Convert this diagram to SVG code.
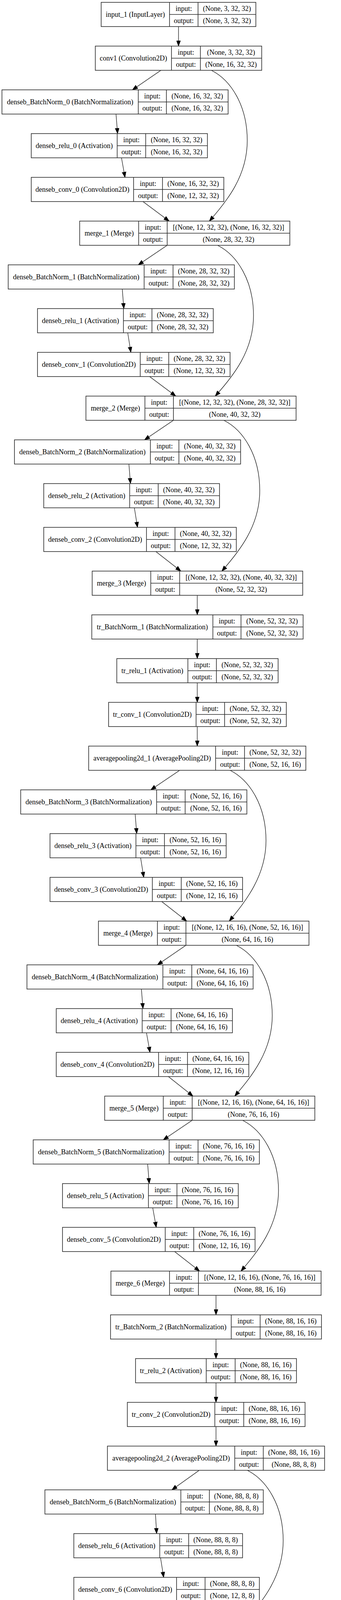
<svg xmlns="http://www.w3.org/2000/svg" width="873" height="5675" viewBox="0 0 873 5675">
<style>
.n rect{fill:#fff;stroke:#2a2a2a;stroke-width:1.6}
.n path{fill:none;stroke:#2a2a2a;stroke-width:1.6}
.n text{font-family:"Liberation Serif","Times New Roman",serif;font-size:18px;fill:#000;text-anchor:middle}
#edges path{fill:none;stroke:#000;stroke-width:1.2;marker-end:url(#arr)}
</style>
<defs>
<marker id="arr" markerUnits="userSpaceOnUse" markerWidth="15" markerHeight="11" refX="14" refY="5.5" orient="auto"><path d="M0.5,0.5L14,5.5L0.5,10.5z" fill="#000" stroke="#000" stroke-width="1"/></marker>
</defs>
<rect x="0" y="0" width="873" height="5675" fill="#fff"/>
<g id="edges">
<path d="M457,68V118"/>
<path d="M412,180L339,230"/>
<path d="M541,180C591,205 633,270 633,360C633,450 581,515 536,566"/>
<path d="M297,292L301,342"/>
<path d="M311,404L320,454"/>
<path d="M366,516L433,566"/>
<path d="M428,628L354,678"/>
<path d="M557,628C607,653 649,718 649,808C649,898 597,963 551,1014"/>
<path d="M313,740L317,790"/>
<path d="M327,852L335,902"/>
<path d="M383,964L450,1014"/>
<path d="M444,1076L370,1126"/>
<path d="M573,1076C623,1101 665,1166 665,1256C665,1346 613,1411 568,1462"/>
<path d="M330,1188L334,1238"/>
<path d="M344,1300L352,1350"/>
<path d="M399,1412L463,1462"/>
<path d="M505,1524V1574"/>
<path d="M505,1636V1686"/>
<path d="M505,1748V1798"/>
<path d="M505,1860V1910"/>
<path d="M460,1972L386,2022"/>
<path d="M589,1972C639,1997 681,2062 681,2152C681,2242 629,2307 587,2358"/>
<path d="M346,2084L350,2134"/>
<path d="M360,2196L368,2246"/>
<path d="M414,2308L478,2358"/>
<path d="M476,2420L403,2470"/>
<path d="M605,2420C655,2445 697,2510 697,2600C697,2690 645,2755 601,2806"/>
<path d="M362,2532L366,2582"/>
<path d="M375,2644L384,2694"/>
<path d="M431,2756L494,2806"/>
<path d="M492,2868L418,2918"/>
<path d="M621,2868C671,2893 713,2958 713,3048C713,3138 661,3203 617,3254"/>
<path d="M378,2980L382,3030"/>
<path d="M391,3092L400,3142"/>
<path d="M447,3204L511,3254"/>
<path d="M553,3316V3366"/>
<path d="M553,3428V3478"/>
<path d="M553,3540V3590"/>
<path d="M553,3652V3702"/>
<path d="M510,3764L440,3814"/>
<path d="M633,3764C683,3789 725,3854 725,3944C725,4034 673,4099 628,4150"/>
<path d="M398,3876L401,3926"/>
<path d="M411,3988L419,4038"/>
<path d="M465,4100L531,4150"/>
<path d="M525,4212L452,4262"/>
<path d="M649,4212C699,4237 741,4302 741,4392C741,4482 689,4547 646,4598"/>
<path d="M411,4324L415,4374"/>
<path d="M426,4436L434,4486"/>
<path d="M480,4548L540,4598"/>
<path d="M541,4660L468,4710"/>
<path d="M665,4660C715,4685 757,4750 757,4840C757,4930 705,4995 663,5046"/>
<path d="M428,4772L432,4822"/>
<path d="M442,4884L450,4934"/>
<path d="M496,4996L562,5046"/>
<path d="M601,5108V5158"/>
<path d="M601,5220V5270"/>
<path d="M601,5332V5382"/>
<path d="M601,5444V5494"/>
<path d="M601,5556V5606"/>
</g>
<g id="input_1" class="n"><rect x="259" y="6" width="396" height="62"/><path d="M434,6V68M507,6V68M434,37H655"/><text x="346.5" y="43">input_1 (InputLayer)</text><text x="470.5" y="27.5">input:</text><text x="470.5" y="58.5">output:</text><text x="581" y="27.5">(None, 3, 32, 32)</text><text x="581" y="58.5">(None, 3, 32, 32)</text></g>
<g id="conv1" class="n"><rect x="244" y="118" width="426" height="62"/><path d="M439,118V180M513,118V180M439,149H670"/><text x="341.5" y="155">conv1 (Convolution2D)</text><text x="476" y="139.5">input:</text><text x="476" y="170.5">output:</text><text x="591.5" y="139.5">(None, 3, 32, 32)</text><text x="591.5" y="170.5">(None, 16, 32, 32)</text></g>
<g id="denseb_BatchNorm_0" class="n"><rect x="5" y="230" width="579" height="62"/><path d="M354,230V292M426,230V292M354,261H584"/><text x="179.5" y="267">denseb_BatchNorm_0 (BatchNormalization)</text><text x="390" y="251.5">input:</text><text x="390" y="282.5">output:</text><text x="505" y="251.5">(None, 16, 32, 32)</text><text x="505" y="282.5">(None, 16, 32, 32)</text></g>
<g id="denseb_relu_0" class="n"><rect x="80" y="342" width="451" height="62"/><path d="M300,342V404M373,342V404M300,373H531"/><text x="190" y="379">denseb_relu_0 (Activation)</text><text x="336.5" y="363.5">input:</text><text x="336.5" y="394.5">output:</text><text x="452" y="363.5">(None, 16, 32, 32)</text><text x="452" y="394.5">(None, 16, 32, 32)</text></g>
<g id="denseb_conv_0" class="n"><rect x="80" y="454" width="493" height="62"/><path d="M342,454V516M416,454V516M342,485H573"/><text x="211" y="491">denseb_conv_0 (Convolution2D)</text><text x="379" y="475.5">input:</text><text x="379" y="506.5">output:</text><text x="494.5" y="475.5">(None, 16, 32, 32)</text><text x="494.5" y="506.5">(None, 12, 32, 32)</text></g>
<g id="merge_1" class="n"><rect x="204" y="566" width="538" height="62"/><path d="M355,566V628M428,566V628M355,597H742"/><text x="279.5" y="603">merge_1 (Merge)</text><text x="391.5" y="587.5">input:</text><text x="391.5" y="618.5">output:</text><text x="585" y="587.5">[(None, 12, 32, 32), (None, 16, 32, 32)]</text><text x="585" y="618.5">(None, 28, 32, 32)</text></g>
<g id="denseb_BatchNorm_1" class="n"><rect x="21" y="678" width="579" height="62"/><path d="M369,678V740M443,678V740M369,709H600"/><text x="195" y="715">denseb_BatchNorm_1 (BatchNormalization)</text><text x="406" y="699.5">input:</text><text x="406" y="730.5">output:</text><text x="521.5" y="699.5">(None, 28, 32, 32)</text><text x="521.5" y="730.5">(None, 28, 32, 32)</text></g>
<g id="denseb_relu_1" class="n"><rect x="96" y="790" width="450" height="62"/><path d="M316,790V852M389,790V852M316,821H546"/><text x="206" y="827">denseb_relu_1 (Activation)</text><text x="352.5" y="811.5">input:</text><text x="352.5" y="842.5">output:</text><text x="467.5" y="811.5">(None, 28, 32, 32)</text><text x="467.5" y="842.5">(None, 28, 32, 32)</text></g>
<g id="denseb_conv_1" class="n"><rect x="96" y="902" width="493" height="62"/><path d="M359,902V964M432,902V964M359,933H589"/><text x="227.5" y="939">denseb_conv_1 (Convolution2D)</text><text x="395.5" y="923.5">input:</text><text x="395.5" y="954.5">output:</text><text x="510.5" y="923.5">(None, 28, 32, 32)</text><text x="510.5" y="954.5">(None, 12, 32, 32)</text></g>
<g id="merge_2" class="n"><rect x="220" y="1014" width="538" height="62"/><path d="M371,1014V1076M444,1014V1076M371,1045H758"/><text x="295.5" y="1051">merge_2 (Merge)</text><text x="407.5" y="1035.5">input:</text><text x="407.5" y="1066.5">output:</text><text x="601" y="1035.5">[(None, 12, 32, 32), (None, 28, 32, 32)]</text><text x="601" y="1066.5">(None, 40, 32, 32)</text></g>
<g id="denseb_BatchNorm_2" class="n"><rect x="37" y="1126" width="579" height="62"/><path d="M385,1126V1188M458,1126V1188M385,1157H616"/><text x="211" y="1163">denseb_BatchNorm_2 (BatchNormalization)</text><text x="421.5" y="1147.5">input:</text><text x="421.5" y="1178.5">output:</text><text x="537" y="1147.5">(None, 40, 32, 32)</text><text x="537" y="1178.5">(None, 40, 32, 32)</text></g>
<g id="denseb_relu_2" class="n"><rect x="112" y="1238" width="450" height="62"/><path d="M332,1238V1300M405,1238V1300M332,1269H562"/><text x="222" y="1275">denseb_relu_2 (Activation)</text><text x="368.5" y="1259.5">input:</text><text x="368.5" y="1290.5">output:</text><text x="483.5" y="1259.5">(None, 40, 32, 32)</text><text x="483.5" y="1290.5">(None, 40, 32, 32)</text></g>
<g id="denseb_conv_2" class="n"><rect x="112" y="1350" width="493" height="62"/><path d="M375,1350V1412M448,1350V1412M375,1381H605"/><text x="243.5" y="1387">denseb_conv_2 (Convolution2D)</text><text x="411.5" y="1371.5">input:</text><text x="411.5" y="1402.5">output:</text><text x="526.5" y="1371.5">(None, 40, 32, 32)</text><text x="526.5" y="1402.5">(None, 12, 32, 32)</text></g>
<g id="merge_3" class="n"><rect x="236" y="1462" width="539" height="62"/><path d="M386,1462V1524M460,1462V1524M386,1493H775"/><text x="311" y="1499">merge_3 (Merge)</text><text x="423" y="1483.5">input:</text><text x="423" y="1514.5">output:</text><text x="617.5" y="1483.5">[(None, 12, 32, 32), (None, 40, 32, 32)]</text><text x="617.5" y="1514.5">(None, 52, 32, 32)</text></g>
<g id="tr_BatchNorm_1" class="n"><rect x="235" y="1574" width="541" height="62"/><path d="M545,1574V1636M617,1574V1636M545,1605H776"/><text x="390" y="1611">tr_BatchNorm_1 (BatchNormalization)</text><text x="581" y="1595.5">input:</text><text x="581" y="1626.5">output:</text><text x="696.5" y="1595.5">(None, 52, 32, 32)</text><text x="696.5" y="1626.5">(None, 52, 32, 32)</text></g>
<g id="tr_relu_1" class="n"><rect x="299" y="1686" width="413" height="62"/><path d="M481,1686V1748M554,1686V1748M481,1717H712"/><text x="390" y="1723">tr_relu_1 (Activation)</text><text x="517.5" y="1707.5">input:</text><text x="517.5" y="1738.5">output:</text><text x="633" y="1707.5">(None, 52, 32, 32)</text><text x="633" y="1738.5">(None, 52, 32, 32)</text></g>
<g id="tr_conv_1" class="n"><rect x="278" y="1798" width="455" height="62"/><path d="M502,1798V1860M575,1798V1860M502,1829H733"/><text x="390" y="1835">tr_conv_1 (Convolution2D)</text><text x="538.5" y="1819.5">input:</text><text x="538.5" y="1850.5">output:</text><text x="654" y="1819.5">(None, 52, 32, 32)</text><text x="654" y="1850.5">(None, 52, 32, 32)</text></g>
<g id="averagepooling2d_1" class="n"><rect x="227" y="1910" width="556" height="62"/><path d="M552,1910V1972M626,1910V1972M552,1941H783"/><text x="389.5" y="1947">averagepooling2d_1 (AveragePooling2D)</text><text x="589" y="1931.5">input:</text><text x="589" y="1962.5">output:</text><text x="704.5" y="1931.5">(None, 52, 32, 32)</text><text x="704.5" y="1962.5">(None, 52, 16, 16)</text></g>
<g id="denseb_BatchNorm_3" class="n"><rect x="53" y="2022" width="579" height="62"/><path d="M401,2022V2084M474,2022V2084M401,2053H632"/><text x="227" y="2059">denseb_BatchNorm_3 (BatchNormalization)</text><text x="437.5" y="2043.5">input:</text><text x="437.5" y="2074.5">output:</text><text x="553" y="2043.5">(None, 52, 16, 16)</text><text x="553" y="2074.5">(None, 52, 16, 16)</text></g>
<g id="denseb_relu_3" class="n"><rect x="128" y="2134" width="451" height="62"/><path d="M348,2134V2196M421,2134V2196M348,2165H579"/><text x="238" y="2171">denseb_relu_3 (Activation)</text><text x="384.5" y="2155.5">input:</text><text x="384.5" y="2186.5">output:</text><text x="500" y="2155.5">(None, 52, 16, 16)</text><text x="500" y="2186.5">(None, 52, 16, 16)</text></g>
<g id="denseb_conv_3" class="n"><rect x="128" y="2246" width="493" height="62"/><path d="M390,2246V2308M464,2246V2308M390,2277H621"/><text x="259" y="2283">denseb_conv_3 (Convolution2D)</text><text x="427" y="2267.5">input:</text><text x="427" y="2298.5">output:</text><text x="542.5" y="2267.5">(None, 52, 16, 16)</text><text x="542.5" y="2298.5">(None, 12, 16, 16)</text></g>
<g id="merge_4" class="n"><rect x="252" y="2358" width="539" height="62"/><path d="M403,2358V2420M476,2358V2420M403,2389H791"/><text x="327.5" y="2395">merge_4 (Merge)</text><text x="439.5" y="2379.5">input:</text><text x="439.5" y="2410.5">output:</text><text x="633.5" y="2379.5">[(None, 12, 16, 16), (None, 52, 16, 16)]</text><text x="633.5" y="2410.5">(None, 64, 16, 16)</text></g>
<g id="denseb_BatchNorm_4" class="n"><rect x="69" y="2470" width="579" height="62"/><path d="M417,2470V2532M491,2470V2532M417,2501H648"/><text x="243" y="2507">denseb_BatchNorm_4 (BatchNormalization)</text><text x="454" y="2491.5">input:</text><text x="454" y="2522.5">output:</text><text x="569.5" y="2491.5">(None, 64, 16, 16)</text><text x="569.5" y="2522.5">(None, 64, 16, 16)</text></g>
<g id="denseb_relu_4" class="n"><rect x="144" y="2582" width="451" height="62"/><path d="M364,2582V2644M438,2582V2644M364,2613H595"/><text x="254" y="2619">denseb_relu_4 (Activation)</text><text x="401" y="2603.5">input:</text><text x="401" y="2634.5">output:</text><text x="516.5" y="2603.5">(None, 64, 16, 16)</text><text x="516.5" y="2634.5">(None, 64, 16, 16)</text></g>
<g id="denseb_conv_4" class="n"><rect x="144" y="2694" width="493" height="62"/><path d="M406,2694V2756M480,2694V2756M406,2725H637"/><text x="275" y="2731">denseb_conv_4 (Convolution2D)</text><text x="443" y="2715.5">input:</text><text x="443" y="2746.5">output:</text><text x="558.5" y="2715.5">(None, 64, 16, 16)</text><text x="558.5" y="2746.5">(None, 12, 16, 16)</text></g>
<g id="merge_5" class="n"><rect x="268" y="2806" width="538" height="62"/><path d="M418,2806V2868M492,2806V2868M418,2837H806"/><text x="343" y="2843">merge_5 (Merge)</text><text x="455" y="2827.5">input:</text><text x="455" y="2858.5">output:</text><text x="649" y="2827.5">[(None, 12, 16, 16), (None, 64, 16, 16)]</text><text x="649" y="2858.5">(None, 76, 16, 16)</text></g>
<g id="denseb_BatchNorm_5" class="n"><rect x="85" y="2918" width="579" height="62"/><path d="M433,2918V2980M507,2918V2980M433,2949H664"/><text x="259" y="2955">denseb_BatchNorm_5 (BatchNormalization)</text><text x="470" y="2939.5">input:</text><text x="470" y="2970.5">output:</text><text x="585.5" y="2939.5">(None, 76, 16, 16)</text><text x="585.5" y="2970.5">(None, 76, 16, 16)</text></g>
<g id="denseb_relu_5" class="n"><rect x="160" y="3030" width="450" height="62"/><path d="M380,3030V3092M453,3030V3092M380,3061H610"/><text x="270" y="3067">denseb_relu_5 (Activation)</text><text x="416.5" y="3051.5">input:</text><text x="416.5" y="3082.5">output:</text><text x="531.5" y="3051.5">(None, 76, 16, 16)</text><text x="531.5" y="3082.5">(None, 76, 16, 16)</text></g>
<g id="denseb_conv_5" class="n"><rect x="160" y="3142" width="493" height="62"/><path d="M423,3142V3204M496,3142V3204M423,3173H653"/><text x="291.5" y="3179">denseb_conv_5 (Convolution2D)</text><text x="459.5" y="3163.5">input:</text><text x="459.5" y="3194.5">output:</text><text x="574.5" y="3163.5">(None, 76, 16, 16)</text><text x="574.5" y="3194.5">(None, 12, 16, 16)</text></g>
<g id="merge_6" class="n"><rect x="284" y="3254" width="538" height="62"/><path d="M434,3254V3316M508,3254V3316M434,3285H822"/><text x="359" y="3291">merge_6 (Merge)</text><text x="471" y="3275.5">input:</text><text x="471" y="3306.5">output:</text><text x="665" y="3275.5">[(None, 12, 16, 16), (None, 76, 16, 16)]</text><text x="665" y="3306.5">(None, 88, 16, 16)</text></g>
<g id="tr_BatchNorm_2" class="n"><rect x="283" y="3366" width="540" height="62"/><path d="M592,3366V3428M666,3366V3428M592,3397H823"/><text x="437.5" y="3403">tr_BatchNorm_2 (BatchNormalization)</text><text x="629" y="3387.5">input:</text><text x="629" y="3418.5">output:</text><text x="744.5" y="3387.5">(None, 88, 16, 16)</text><text x="744.5" y="3418.5">(None, 88, 16, 16)</text></g>
<g id="tr_relu_2" class="n"><rect x="347" y="3478" width="412" height="62"/><path d="M528,3478V3540M602,3478V3540M528,3509H759"/><text x="437.5" y="3515">tr_relu_2 (Activation)</text><text x="565" y="3499.5">input:</text><text x="565" y="3530.5">output:</text><text x="680.5" y="3499.5">(None, 88, 16, 16)</text><text x="680.5" y="3530.5">(None, 88, 16, 16)</text></g>
<g id="tr_conv_2" class="n"><rect x="326" y="3590" width="455" height="62"/><path d="M550,3590V3652M624,3590V3652M550,3621H781"/><text x="438" y="3627">tr_conv_2 (Convolution2D)</text><text x="587" y="3611.5">input:</text><text x="587" y="3642.5">output:</text><text x="702.5" y="3611.5">(None, 88, 16, 16)</text><text x="702.5" y="3642.5">(None, 88, 16, 16)</text></g>
<g id="averagepooling2d_2" class="n"><rect x="275" y="3702" width="556" height="62"/><path d="M601,3702V3764M674,3702V3764M601,3733H831"/><text x="438" y="3739">averagepooling2d_2 (AveragePooling2D)</text><text x="637.5" y="3723.5">input:</text><text x="637.5" y="3754.5">output:</text><text x="752.5" y="3723.5">(None, 88, 16, 16)</text><text x="752.5" y="3754.5">(None, 88, 8, 8)</text></g>
<g id="denseb_BatchNorm_6" class="n"><rect x="115" y="3814" width="559" height="62"/><path d="M463,3814V3876M536,3814V3876M463,3845H674"/><text x="289" y="3851">denseb_BatchNorm_6 (BatchNormalization)</text><text x="499.5" y="3835.5">input:</text><text x="499.5" y="3866.5">output:</text><text x="605" y="3835.5">(None, 88, 8, 8)</text><text x="605" y="3866.5">(None, 88, 8, 8)</text></g>
<g id="denseb_relu_6" class="n"><rect x="189" y="3926" width="432" height="62"/><path d="M409,3926V3988M483,3926V3988M409,3957H621"/><text x="299" y="3963">denseb_relu_6 (Activation)</text><text x="446" y="3947.5">input:</text><text x="446" y="3978.5">output:</text><text x="552" y="3947.5">(None, 88, 8, 8)</text><text x="552" y="3978.5">(None, 88, 8, 8)</text></g>
<g id="denseb_conv_6" class="n"><rect x="189" y="4038" width="475" height="62"/><path d="M452,4038V4100M525,4038V4100M452,4069H664"/><text x="320.5" y="4075">denseb_conv_6 (Convolution2D)</text><text x="488.5" y="4059.5">input:</text><text x="488.5" y="4090.5">output:</text><text x="594.5" y="4059.5">(None, 88, 8, 8)</text><text x="594.5" y="4090.5">(None, 12, 8, 8)</text></g>
<g id="merge_7" class="n"><rect x="317" y="4150" width="503" height="62"/><path d="M469,4150V4212M542,4150V4212M469,4181H820"/><text x="393" y="4187">merge_7 (Merge)</text><text x="505.5" y="4171.5">input:</text><text x="505.5" y="4202.5">output:</text><text x="681" y="4171.5">[(None, 12, 8, 8), (None, 88, 8, 8)]</text><text x="681" y="4202.5">(None, 100, 8, 8)</text></g>
<g id="denseb_BatchNorm_7" class="n"><rect x="123" y="4262" width="569" height="62"/><path d="M472,4262V4324M545,4262V4324M472,4293H692"/><text x="297.5" y="4299">denseb_BatchNorm_7 (BatchNormalization)</text><text x="508.5" y="4283.5">input:</text><text x="508.5" y="4314.5">output:</text><text x="618.5" y="4283.5">(None, 100, 8, 8)</text><text x="618.5" y="4314.5">(None, 100, 8, 8)</text></g>
<g id="denseb_relu_7" class="n"><rect x="199" y="4374" width="441" height="62"/><path d="M419,4374V4436M492,4374V4436M419,4405H640"/><text x="309" y="4411">denseb_relu_7 (Activation)</text><text x="455.5" y="4395.5">input:</text><text x="455.5" y="4426.5">output:</text><text x="566" y="4395.5">(None, 100, 8, 8)</text><text x="566" y="4426.5">(None, 100, 8, 8)</text></g>
<g id="denseb_conv_7" class="n"><rect x="199" y="4486" width="484" height="62"/><path d="M462,4486V4548M535,4486V4548M462,4517H683"/><text x="330.5" y="4523">denseb_conv_7 (Convolution2D)</text><text x="498.5" y="4507.5">input:</text><text x="498.5" y="4538.5">output:</text><text x="609" y="4507.5">(None, 100, 8, 8)</text><text x="609" y="4538.5">(None, 12, 8, 8)</text></g>
<g id="merge_8" class="n"><rect x="330" y="4598" width="510" height="62"/><path d="M481,4598V4660M554,4598V4660M481,4629H840"/><text x="405.5" y="4635">merge_8 (Merge)</text><text x="517.5" y="4619.5">input:</text><text x="517.5" y="4650.5">output:</text><text x="697" y="4619.5">[(None, 12, 8, 8), (None, 100, 8, 8)]</text><text x="697" y="4650.5">(None, 112, 8, 8)</text></g>
<g id="denseb_BatchNorm_8" class="n"><rect x="139" y="4710" width="569" height="62"/><path d="M487,4710V4772M560,4710V4772M487,4741H708"/><text x="313" y="4747">denseb_BatchNorm_8 (BatchNormalization)</text><text x="523.5" y="4731.5">input:</text><text x="523.5" y="4762.5">output:</text><text x="634" y="4731.5">(None, 112, 8, 8)</text><text x="634" y="4762.5">(None, 112, 8, 8)</text></g>
<g id="denseb_relu_8" class="n"><rect x="215" y="4822" width="441" height="62"/><path d="M435,4822V4884M508,4822V4884M435,4853H656"/><text x="325" y="4859">denseb_relu_8 (Activation)</text><text x="471.5" y="4843.5">input:</text><text x="471.5" y="4874.5">output:</text><text x="582" y="4843.5">(None, 112, 8, 8)</text><text x="582" y="4874.5">(None, 112, 8, 8)</text></g>
<g id="denseb_conv_8" class="n"><rect x="215" y="4934" width="484" height="62"/><path d="M478,4934V4996M551,4934V4996M478,4965H699"/><text x="346.5" y="4971">denseb_conv_8 (Convolution2D)</text><text x="514.5" y="4955.5">input:</text><text x="514.5" y="4986.5">output:</text><text x="625" y="4955.5">(None, 112, 8, 8)</text><text x="625" y="4986.5">(None, 12, 8, 8)</text></g>
<g id="merge_9" class="n"><rect x="346" y="5046" width="510" height="62"/><path d="M496,5046V5108M570,5046V5108M496,5077H856"/><text x="421" y="5083">merge_9 (Merge)</text><text x="533" y="5067.5">input:</text><text x="533" y="5098.5">output:</text><text x="713" y="5067.5">[(None, 12, 8, 8), (None, 112, 8, 8)]</text><text x="713" y="5098.5">(None, 124, 8, 8)</text></g>
<g id="BatchNorm_final" class="n"><rect x="334" y="5158" width="535" height="62"/><path d="M647,5158V5220M720,5158V5220M647,5189H869"/><text x="490.5" y="5195">BatchNorm_final (BatchNormalization)</text><text x="683.5" y="5179.5">input:</text><text x="683.5" y="5210.5">output:</text><text x="794.5" y="5179.5">(None, 124, 8, 8)</text><text x="794.5" y="5210.5">(None, 124, 8, 8)</text></g>
<g id="relu_final" class="n"><rect x="398" y="5270" width="407" height="62"/><path d="M583,5270V5332M656,5270V5332M583,5301H805"/><text x="490.5" y="5307">relu_final (Activation)</text><text x="619.5" y="5291.5">input:</text><text x="619.5" y="5322.5">output:</text><text x="730.5" y="5291.5">(None, 124, 8, 8)</text><text x="730.5" y="5322.5">(None, 124, 8, 8)</text></g>
<g id="avg_pool_final" class="n"><rect x="347" y="5382" width="508" height="62"/><path d="M634,5382V5444M707,5382V5444M634,5413H855"/><text x="490.5" y="5419">avg_pool_final (AveragePooling2D)</text><text x="670.5" y="5403.5">input:</text><text x="670.5" y="5434.5">output:</text><text x="781" y="5403.5">(None, 124, 8, 8)</text><text x="781" y="5434.5">(None, 124, 1, 1)</text></g>
<g id="flatten" class="n"><rect x="423" y="5494" width="356" height="62"/><path d="M557,5494V5556M631,5494V5556M557,5525H779"/><text x="490" y="5531">flatten (Flatten)</text><text x="594" y="5515.5">input:</text><text x="594" y="5546.5">output:</text><text x="705" y="5515.5">(None, 124, 1, 1)</text><text x="705" y="5546.5">(None, 124)</text></g>
<g id="dense_1" class="n"><rect x="438" y="5606" width="326" height="62"/><path d="M580,5606V5668M653,5606V5668M580,5637H764"/><text x="509" y="5643">dense_1 (Dense)</text><text x="616.5" y="5627.5">input:</text><text x="616.5" y="5658.5">output:</text><text x="708.5" y="5627.5">(None, 124)</text><text x="708.5" y="5658.5">(None, 10)</text></g>
</svg>
